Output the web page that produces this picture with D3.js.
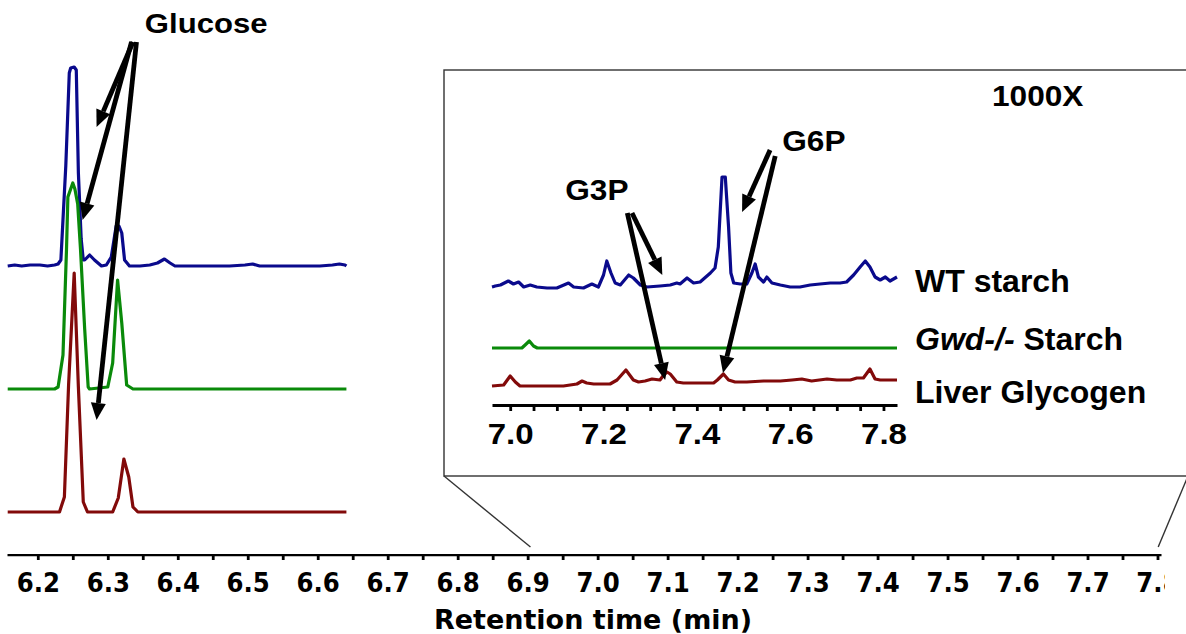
<!DOCTYPE html>
<html>
<head>
<meta charset="utf-8">
<script src="https://cdn.jsdelivr.net/npm/d3@7"></script>
<style>
  body { margin: 0; background: #fff; }
  svg { display: block; }
</style>
</head>
<body>
<div id="chart"></div>
<script>
// ---- data: [retention time (min), signal above the trace's own baseline (a.u.)] ----
const wtStarchMain = [
  [6.157,0],[6.167,1],[6.177,0],[6.189,1],[6.203,1],[6.214,0],[6.224,1],[6.229,2],[6.233,6],
  [6.240,100],[6.245,193],[6.247,198],[6.252,199],[6.255,196],[6.258,93],[6.262,27],[6.265,6],
  [6.267,6],[6.274,11],[6.281,6],[6.291,0],[6.298,1],[6.305,9],[6.312,40],[6.316,40],[6.320,33],
  [6.324,6],[6.331,0],[6.346,0],[6.360,1],[6.371,3],[6.381,7],[6.389,3],[6.396,0],[6.431,0],
  [6.474,0],[6.496,1],[6.507,2],[6.517,0],[6.574,0],[6.603,0],[6.621,1],[6.631,2],[6.639,1],[6.641,0]
];
const gwdStarchMain = [
  [6.157,0],[6.224,0],[6.229,2],[6.236,34],[6.241,139],[6.243,192],[6.250,206],[6.253,200],
  [6.257,185],[6.261,140],[6.267,60],[6.272,2],[6.274,0],[6.300,2],[6.307,26],[6.314,109],
  [6.320,66],[6.327,4],[6.336,0],[6.641,0]
];
const liverGlycogenMain = [
  [6.157,0],[6.231,0],[6.238,15],[6.244,127],[6.252,239],[6.258,125],[6.265,10],[6.271,0],
  [6.307,0],[6.315,14],[6.323,53],[6.330,35],[6.336,5],[6.343,0],[6.641,0]
];

// inset (1000X)
const wtStarchInset = [
  [6.961,1],[6.968,2],[6.979,3],[6.996,7],[7.007,4],[7.018,6],[7.029,1],[7.043,3],[7.057,1],
  [7.079,0],[7.100,0],[7.125,5],[7.136,1],[7.157,0],[7.175,4],[7.189,1],[7.200,13],[7.207,27],
  [7.216,15],[7.225,5],[7.236,3],[7.254,13],[7.264,10],[7.279,3],[7.293,1],[7.321,2],[7.343,3],
  [7.357,5],[7.364,4],[7.379,10],[7.393,5],[7.407,6],[7.429,15],[7.439,20],[7.446,41],[7.454,111],
  [7.461,111],[7.468,61],[7.473,15],[7.479,5],[7.493,4],[7.507,4],[7.518,15],[7.525,24],[7.532,11],
  [7.543,6],[7.550,11],[7.561,5],[7.579,3],[7.600,1],[7.621,1],[7.643,3],[7.664,4],[7.686,5],
  [7.707,5],[7.721,6],[7.736,13],[7.750,21],[7.761,27],[7.771,21],[7.782,11],[7.793,8],[7.804,11],
  [7.814,7],[7.829,11]
];
const gwdStarchInset = [
  [6.961,0],[7.025,0],[7.032,3],[7.041,7],[7.050,2],[7.058,0],[7.829,0]
];
const liverGlycogenInset = [
  [6.961,0],[6.986,1],[7.000,10],[7.011,4],[7.021,0],[7.043,0],[7.079,0],[7.114,0],[7.143,2],
  [7.154,5],[7.164,3],[7.179,2],[7.214,2],[7.229,6],[7.248,16],[7.264,6],[7.275,4],[7.289,5],
  [7.304,7],[7.321,6],[7.329,11],[7.336,14],[7.343,12],[7.357,4],[7.371,3],[7.400,3],[7.436,3],
  [7.444,6],[7.457,12],[7.468,6],[7.482,4],[7.507,4],[7.543,5],[7.579,5],[7.604,6],[7.625,7],
  [7.646,5],[7.679,7],[7.700,6],[7.729,6],[7.743,8],[7.757,8],[7.771,17],[7.782,7],[7.793,6],[7.829,6]
];

const seriesNames = ["WT starch", "Gwd-/- Starch", "Liver Glycogen"];
const mainTickLabels = ["6.2","6.3","6.4","6.5","6.6","6.7","6.8","6.9","7.0","7.1","7.2","7.3","7.4","7.5","7.6","7.7","7.8"];
const insetTickLabels = ["7.0","7.2","7.4","7.6","7.8"];
const xAxisTitle = "Retention time (min)";
const insetTitle = "1000X";

// annotation arrows, in each panel's own data units: [tailT, tailV, headT, headV]
const glucoseArrows = [[6.336,512,6.284,427],[6.334,512,6.264,334],[6.341,512,6.284,134]];
const g3pArrows = [[7.261,192,7.326,130],[7.251,192,7.332,25]];
const g6pArrows = [[7.557,255,7.497,193],[7.568,249,7.456,32]];

// ---- layout ----
const width = 1186, height = 634;
const colors = ["#0a0a8c", "#0a8a0a", "#820a0a"];
const mainBaselines = [288, 165, 42];
const insetBaselines = [117, 57, 19];
const sansBold = "'Liberation Sans', Arial, sans-serif";
const axisFont = "'DejaVu Sans', Verdana, sans-serif";

const svg = d3.select("#chart").append("svg")
    .attr("width", width)
    .attr("height", height)
    .attr("viewBox", `0 0 ${width} ${height}`);

svg.append("rect").attr("width", width).attr("height", height).attr("fill", "#fff");

const xMain = d3.scaleLinear().domain([6.156, 7.805]).range([7, 1161]);
const yMain = d3.scaleLinear().domain([0, 500]).range([554, 54]);
const xInset = d3.scaleLinear().domain([6.961, 7.829]).range([492, 897]);
const yInset = d3.scaleLinear().domain([0, 250]).range([405, 155]);

const labelFor = labels => d => labels.find(l => Math.abs(+l - d) < 1e-6) || "";

const appendText = (g, str, x, y, {size, family = sansBold, sx = 1, anchor = "start"}) =>
    g.append("text")
        .attr("transform", `translate(${x},${y}) scale(${sx},1)`)
        .attr("text-anchor", anchor)
        .attr("font-family", family)
        .attr("font-weight", "bold")
        .attr("font-size", size)
        .attr("fill", "#000")
        .text(str);

const appendArrow = (g, x1, y1, x2, y2) => {
    const ang = Math.atan2(y2 - y1, x2 - x1);
    const headLen = 17, headHalf = 7.5;
    const bx = x2 - headLen * Math.cos(ang), by = y2 - headLen * Math.sin(ang);
    const px = -Math.sin(ang) * headHalf, py = Math.cos(ang) * headHalf;
    g.append("line")
        .attr("x1", x1).attr("y1", y1).attr("x2", bx).attr("y2", by)
        .attr("stroke", "#000").attr("stroke-width", 4.8);
    g.append("path")
        .attr("d", `M${x2},${y2}L${bx + px},${by + py}L${bx - px},${by - py}Z`)
        .attr("fill", "#000");
};

const appendTraces = (g, x, y, rows, baselines) => {
    rows.forEach((row, i) => {
        const line = d3.line().x(d => x(d[0])).y(d => y(d[1] + baselines[i]));
        g.append("path")
            .attr("fill", "none")
            .attr("stroke", colors[i])
            .attr("stroke-width", 3.2)
            .attr("stroke-linejoin", "round")
            .attr("d", line(row));
    });
};

// ---- inset frame and zoom connectors ----
const frame = svg.append("g").attr("stroke", "#333").attr("stroke-width", 1.4).attr("fill", "none");
frame.append("rect").attr("x", 444).attr("y", 70).attr("width", 744).attr("height", 406);
frame.append("line").attr("x1", 444).attr("y1", 476).attr("x2", xMain(6.904)).attr("y2", 547);
frame.append("line").attr("x1", 1188).attr("y1", 476).attr("x2", xMain(7.801)).attr("y2", 547);

// ---- main panel ----
const mainG = svg.append("g");
appendTraces(mainG, xMain, yMain, [wtStarchMain, gwdStarchMain, liverGlycogenMain], mainBaselines);

svg.append("clipPath").attr("id", "axisClip")
    .append("rect").attr("x", 0).attr("y", 0).attr("width", 1165).attr("height", height);

const mainTicks = d3.range(0, 33).map(i => 6.2 + i * 0.05);
svg.append("g")
    .attr("clip-path", "url(#axisClip)")
    .attr("transform", "translate(0,554)")
    .call(d3.axisBottom(xMain).tickValues(mainTicks).tickSize(6).tickPadding(13.5)
        .tickSizeOuter(0).tickFormat(labelFor(mainTickLabels)))
    .call(g => g.select(".domain").attr("stroke", "#000").attr("stroke-width", 3.4))
    .call(g => g.selectAll(".tick line").attr("stroke", "#000").attr("stroke-width", 2.8))
    .call(g => g.selectAll(".tick text")
        .attr("fill", "#000")
        .attr("font-family", axisFont)
        .attr("font-weight", "bold")
        .attr("font-size", 26)
        .attr("transform", "scale(0.94,1)"));

appendText(svg, xAxisTitle, 593, 629, {size: 27, family: axisFont, anchor: "middle"});

// glucose annotation
appendText(svg, "Glucose", xMain(6.353), yMain(521), {size: 28, sx: 1.11});
glucoseArrows.forEach(([t1, v1, t2, v2]) =>
    appendArrow(svg, xMain(t1), yMain(v1), xMain(t2), yMain(v2)));

// ---- inset panel ----
const insetG = svg.append("g");
appendTraces(insetG, xInset, yInset, [wtStarchInset, gwdStarchInset, liverGlycogenInset], insetBaselines);

const insetTicks = d3.range(0, 17).map(i => 7.0 + i * 0.05);
svg.append("g")
    .attr("transform", "translate(0,405)")
    .call(d3.axisBottom(xInset).tickValues(insetTicks).tickSize(6).tickPadding(12.5)
        .tickSizeOuter(0).tickFormat(labelFor(insetTickLabels)))
    .call(g => g.select(".domain").attr("stroke", "#000").attr("stroke-width", 3.2))
    .call(g => g.selectAll(".tick line").attr("stroke", "#000").attr("stroke-width", 2.8))
    .call(g => g.selectAll(".tick text")
        .attr("fill", "#000")
        .attr("font-family", sansBold)
        .attr("font-weight", "bold")
        .attr("font-size", 29)
        .attr("transform", "scale(1.14,1)"));

appendText(svg, insetTitle, 992, 106, {size: 29, sx: 1.09});
appendText(svg, "G3P", xInset(7.118), yInset(205), {size: 29, sx: 1.09});
appendText(svg, "G6P", xInset(7.583), yInset(254), {size: 29, sx: 1.09});
[...g3pArrows, ...g6pArrows].forEach(([t1, v1, t2, v2]) =>
    appendArrow(svg, xInset(t1), yInset(v1), xInset(t2), yInset(v2)));

// series labels at the right of the inset traces
const legendY = [292, 350, 403];
appendText(svg, seriesNames[0], 915, legendY[0], {size: 32});
const gwd = appendText(svg, "", 915, legendY[1], {size: 32});
gwd.append("tspan").attr("font-style", "italic").text(seriesNames[1].split(" ")[0]);
gwd.append("tspan").text(" " + seriesNames[1].split(" ")[1]);
appendText(svg, seriesNames[2], 915, legendY[2], {size: 32});
</script>
</body>
</html>
